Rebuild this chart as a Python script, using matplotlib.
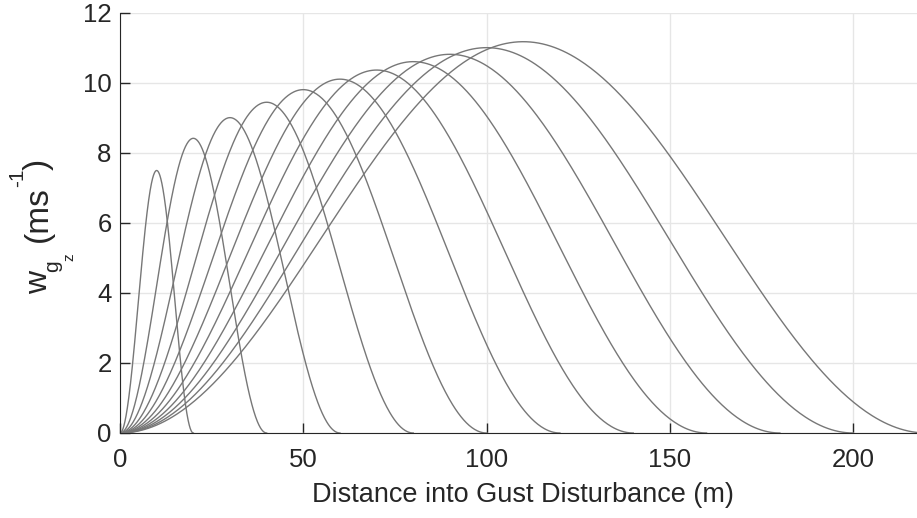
import numpy as np
import matplotlib.pyplot as plt

plt.rcParams['font.family'] = ['Liberation Sans', 'DejaVu Sans']

# gust gradient distances H (m) and peak velocities (m/s)
H = [10, 20, 30, 40, 50, 60, 70, 80, 90, 100, 110]
U = [7.50, 8.42, 9.01, 9.45, 9.81, 10.11, 10.37, 10.61, 10.82, 11.01, 11.18]

W, Hpx = 917, 518
fig = plt.figure(figsize=(W/100, Hpx/100), dpi=100)
ax = fig.add_axes([120/W, 1-433/Hpx, (220*3.666)/W, 420/Hpx])

for h, u in zip(H, U):
    s = np.linspace(0, 2*h, 400)
    w = u/2*(1-np.cos(np.pi*s/h))  # 1-cosine profile
    ax.plot(s, w, color='#777777', lw=1.0)

ax.set_xlim(0, 220)
ax.set_ylim(0, 12)
ax.set_xticks([0, 50, 100, 150, 200])
ax.set_yticks([0, 2, 4, 6, 8, 10, 12])
ax.grid(True, color='#e6e6e6', lw=1)
ax.set_axisbelow(True)
for sp in ['top', 'right']:
    ax.spines[sp].set_visible(False)
for sp in ['left', 'bottom']:
    ax.spines[sp].set_color('#262626')
ax.tick_params(direction='in', length=7, width=1, colors='#262626', labelsize=18.5)
ax.tick_params(axis='x', pad=11)
ax.tick_params(axis='y', pad=6)
ax.set_xlabel('Distance into Gust Disturbance (m)', fontsize=19.5, color='#262626', labelpad=7)

# y label built piece by piece (rotated), each piece starting where the last one ends
renderer = fig.canvas.get_renderer()

def ypiece(txt, x, y, fs):
    t = fig.text(x/W, 1-y/Hpx, txt, rotation=90, rotation_mode='anchor',
                 ha='left', va='baseline', fontsize=fs, color='#262626')
    bb = t.get_window_extent(renderer)
    return Hpx - bb.y1  # top of this piece, in px from the top

top = ypiece('w', 47, 294, 23)
top = ypiece('g', 58, top + 1, 15)
ypiece('z', 73, top + 1, 11)
top = ypiece('(ms', 47, 242, 24)
top = ypiece('-1', 23, top + 1, 15)
ypiece(')', 47, top + 1, 24)

fig.savefig('out.png', dpi=100)
